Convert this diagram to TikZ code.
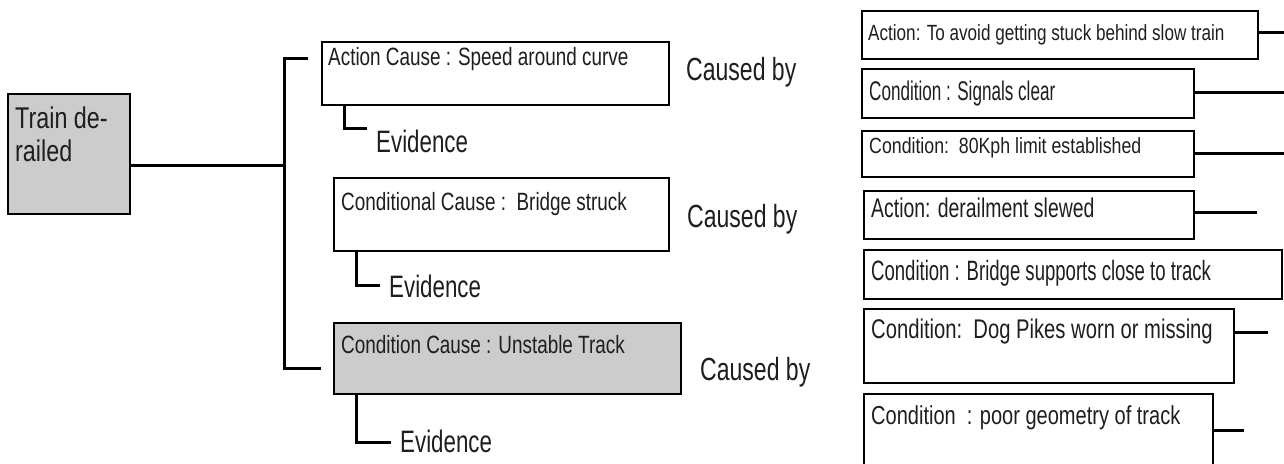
\documentclass[tikz,border=0pt]{standalone}
\usepackage{fontspec}
\usepackage{graphicx}
\setmainfont[FakeStretch=0.72]{Liberation Sans}
\usetikzlibrary{calc}
\definecolor{boxgray}{HTML}{CCCCCC}
\definecolor{txtcol}{HTML}{1E1E1E}
\tikzset{
  boxnode/.style={draw=black, line width=2.4pt, anchor=north west, inner sep=0pt},
  link/.style={draw=black, line width=3pt},
  txt/.style={anchor=base west, inner sep=0pt, text=txtcol},
}
\newcommand\fsz[1]{\fontsize{#1}{#1}\selectfont}
\newcommand\hs[2]{\scalebox{#1}[1]{#2}}
\begin{document}
\begin{tikzpicture}[x=1pt,y=-1pt]
\useasboundingbox (0,0) rectangle (1284,463);
\clip (0,0) rectangle (1284,463);
% root
\node[boxnode, fill=boxgray, minimum width=122pt, minimum height=120pt] (root) at (7,93) {};
\node[txt] (roott) at (15,128) {\fsz{30}\hs{1.08}{Train de-}};
\node[txt] (roott2) at (15,161) {\fsz{30}\hs{1.08}{railed}};
% cause boxes
\node[boxnode, minimum width=347pt, minimum height=63pt] (a1) at (321,41) {};
\node[txt] (a1t) at (328,65) {\fsz{25}\hs{1.05}{Action Cause : Speed around curve}};
\node[boxnode, minimum width=335pt, minimum height=73pt] (a2) at (333,177) {};
\node[txt] (a2t) at (341,210) {\fsz{25}\hs{1.05}{Conditional Cause :\ \ Bridge struck}};
\node[boxnode, fill=boxgray, minimum width=347pt, minimum height=71pt] (a3) at (333,322) {};
\node[txt] (a3t) at (341,353) {\fsz{25}\hs{1.05}{Condition Cause : Unstable Track}};
% evidence
\node[txt] (e1) at (376,152) {\fsz{31}Evidence};
\node[txt] (e2) at (389,297) {\fsz{31}Evidence};
\node[txt] (e3) at (400,452) {\fsz{31}Evidence};
% caused by
\node[txt] (c1) at (686,80) {\fsz{32}Caused by};
\node[txt] (c2) at (687,227) {\fsz{32}Caused by};
\node[txt] (c3) at (700,380) {\fsz{32}Caused by};
% trunk
\coordinate (j0) at (284,58);
\coordinate (j1) at (284,165);
\coordinate (j2) at (284,368);
\coordinate (t1) at (308,58);
\coordinate (t3) at (321,368);
\draw[link] (root.east |- j1) -- (j1);
\draw[link] (t1) -- (j0) -- (j2) -- (t3);
% evidence connectors
\draw[link] ([xshift=23pt]a1.south west) |- (367,128);
\draw[link] ([xshift=23pt]a2.south west) |- (380,285);
\draw[link] ([xshift=23pt]a3.south west) |- (391,442);
% right column
\node[boxnode, minimum width=396pt, minimum height=48pt] (b1) at (861,10) {};
\node[txt] (b1t) at (868,40) {\fsz{22}\hs{1.08}{Action: To avoid getting stuck behind slow train}};
\node[boxnode, minimum width=332pt, minimum height=49pt] (b2) at (861,68) {};
\node[txt] (b2t) at (869,100) {\fsz{27}\hs{0.88}{Condition : Signals clear}};
\node[boxnode, minimum width=332pt, minimum height=46pt] (b3) at (861,130) {};
\node[txt] (b3t) at (869,153) {\fsz{22}\hs{1.12}{Condition:\ \ 80Kph limit established}};
\node[boxnode, minimum width=330pt, minimum height=48pt] (b4) at (863,190) {};
\node[txt] (b4t) at (871,217) {\fsz{27}\hs{1.0}{Action: derailment slewed}};
\node[boxnode, minimum width=418pt, minimum height=49pt] (b5) at (863,249) {};
\node[txt] (b5t) at (871,280) {\fsz{28}\hs{0.92}{Condition : Bridge supports close to track}};
\node[boxnode, minimum width=370pt, minimum height=74pt] (b6) at (863,308) {};
\node[txt] (b6t) at (871,338) {\fsz{27}\hs{1.04}{Condition:\ \ Dog Pikes worn or missing}};
\node[boxnode, minimum width=349pt, minimum height=90pt] (b7) at (863,393) {};
\node[txt] (b7t) at (871,424) {\fsz{26}\hs{1.07}{Condition\ \ : poor geometry of track}};
% right connectors (free ends)
\coordinate (r1) at (1284,32);
\coordinate (r2) at (1284,92);
\coordinate (r3) at (1284,153);
\coordinate (r4) at (1257,212);
\coordinate (r6) at (1268,332);
\coordinate (r7) at (1244,430);
\draw[link] (b1.east |- r1) -- (r1);
\draw[link] (b2.east |- r2) -- (r2);
\draw[link] (b3.east |- r3) -- (r3);
\draw[link] (b4.east |- r4) -- (r4);
\draw[link] (b6.east |- r6) -- (r6);
\draw[link] (b7.east |- r7) -- (r7);
\end{tikzpicture}
\end{document}
